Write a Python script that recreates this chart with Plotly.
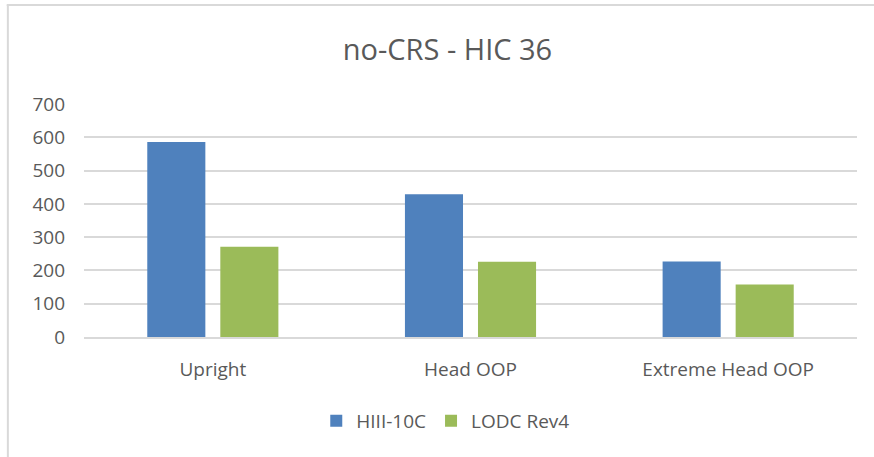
import plotly.graph_objects as go

categories = ["Upright", "Head OOP", "Extreme Head OOP"]
hiii_10c = [586, 429, 227]
lodc_rev4 = [271, 226, 158]
y_ticks = [0, 100, 200, 300, 400, 500, 600, 700]

TEXT = "#595959"
GRID = "#d9d9d9"
FONT = "Open Sans"

fig = go.Figure()
fig.add_trace(go.Bar(x=categories, y=hiii_10c, name="HIII-10C",
                     marker=dict(color="#4F81BD", line=dict(width=0))))
fig.add_trace(go.Bar(x=categories, y=lodc_rev4, name="LODC Rev4",
                     marker=dict(color="#9BBB59", line=dict(width=0))))

# chart frame (top and left edges only are visible in the source)
fig.add_shape(type="line", xref="paper", yref="paper",
              x0=-0.1, x1=1.03, y0=1.425, y1=1.425,
              line=dict(color=GRID, width=2))
fig.add_shape(type="line", xref="paper", yref="paper",
              x0=-0.0985, x1=-0.0985, y0=1.425, y1=-0.53,
              line=dict(color=GRID, width=2))

fig.update_layout(
    width=874, height=457,
    margin=dict(l=84, r=17, t=104, b=120),
    paper_bgcolor="white", plot_bgcolor="white",
    font=dict(family=FONT, color=TEXT, size=18),
    title=dict(text="no-CRS - HIC 36", x=0.512, xanchor="center",
               y=1 - 50 / 457, yanchor="middle", yref="container",
               font=dict(family=FONT, size=29, color=TEXT)),
    barmode="group", bargap=0.433, bargroupgap=0.205,
    showlegend=True,
    legend=dict(orientation="h", x=0.468, xanchor="center",
                y=-0.36, yanchor="middle",
                font=dict(family=FONT, size=19, color=TEXT),
                itemwidth=30, traceorder="normal"),
)
fig.update_yaxes(range=[0, 700], tickvals=y_ticks, showgrid=True,
                 gridcolor=GRID, gridwidth=1.5, zeroline=False,
                 showline=False, ticklabelstandoff=18,
                 tickfont=dict(family=FONT, size=19, color=TEXT))
fig.update_xaxes(showline=True, linecolor=GRID, linewidth=1.5,
                 ticks="", ticklabelstandoff=14,
                 tickfont=dict(family=FONT, size=19, color=TEXT))

fig.write_html("out.html", config={"displayModeBar": False},
               post_script="document.body.style.margin='0';")
